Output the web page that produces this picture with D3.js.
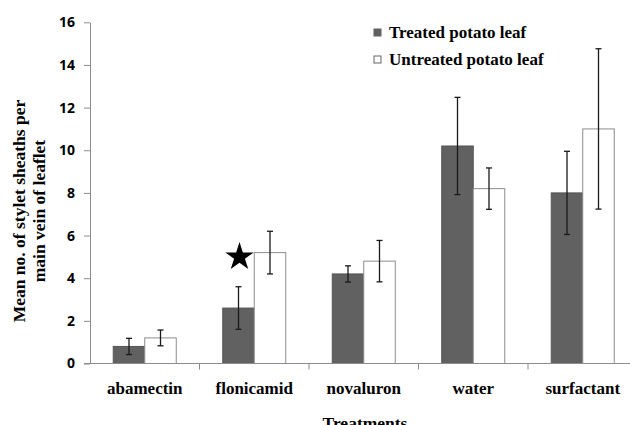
<!DOCTYPE html>
<html>
<head>
<meta charset="utf-8">
<script src="https://cdn.jsdelivr.net/npm/d3@7"></script>
<style>
  body { margin: 0; background: #fff; }
  .axis path, .axis line { stroke: #8c8c8c; }
  .ytick text { font-family: "Open Sans", sans-serif; font-weight: bold; font-size: 14px; fill: #000; }
  .serif { font-family: "Liberation Serif", "Times New Roman", serif; font-weight: bold; fill: #000; }
</style>
</head>
<body>
<script>
// treatments along the x axis
var categories = ["abamectin", "flonicamid", "novaluron", "water", "surfactant"];
var seriesNames = ["Treated potato leaf", "Untreated potato leaf"];

// mean values and error (+/-)
var treated = [0.8, 2.6, 4.2, 10.2, 8.0];
var treatedErr = [0.38, 1.0, 0.38, 2.28, 1.95];
var untreated = [1.2, 5.2, 4.8, 8.2, 11.0];
var untreatedErr = [0.37, 1.0, 0.97, 0.97, 3.76];

var yTicks = [0, 2, 4, 6, 8, 10, 12, 14, 16];

var W = 630, H = 425;
var plotLeft = 90, plotBottom = 363.5, plotTop = 22.3;
var band = 109.5, barW = 31.5;

var svg = d3.select("body").append("svg")
    .attr("width", W)
    .attr("height", H);

var x = d3.scaleBand().domain(categories).range([plotLeft, plotLeft + band * categories.length]).padding(0);
var xs = d3.scaleBand().domain(seriesNames).range([band / 2 - barW, band / 2 + barW]).padding(0);
var y = d3.scaleLinear().domain([0, 16]).range([plotBottom, plotTop]);

// y axis
var yAxis = svg.append("g")
    .attr("class", "axis ytick")
    .attr("transform", "translate(" + plotLeft + ",0)")
    .call(d3.axisLeft(y).tickValues(yTicks).tickSize(6).tickPadding(9).tickSizeOuter(0));

// bars
var rows = categories.map(function(c, i) {
  return [
    {cat: c, s: seriesNames[0], v: treated[i], e: treatedErr[i]},
    {cat: c, s: seriesNames[1], v: untreated[i], e: untreatedErr[i]}
  ];
});

var groups = svg.selectAll(".grp")
    .data(rows)
  .enter().append("g")
    .attr("class", "grp")
    .attr("transform", function(d) { return "translate(" + x(d[0].cat) + ",0)"; });

groups.selectAll("rect")
    .data(function(d) { return d; })
  .enter().append("rect")
    .attr("x", function(d) { return xs(d.s); })
    .attr("width", xs.bandwidth())
    .attr("y", function(d) { return y(d.v); })
    .attr("height", function(d) { return plotBottom - y(d.v); })
    .attr("fill", function(d) { return d.s === seriesNames[0] ? "#616161" : "#fff"; })
    .attr("stroke", function(d) { return d.s === seriesNames[0] ? "#555" : "#8c8c8c"; })
    .attr("stroke-width", 1);

// error bars
var err = groups.selectAll(".err")
    .data(function(d) { return d; })
  .enter().append("g")
    .attr("class", "err")
    .attr("stroke", "#1a1a1a")
    .attr("stroke-width", 1.3);
err.append("line")
    .attr("x1", function(d) { return xs(d.s) + xs.bandwidth() / 2; })
    .attr("x2", function(d) { return xs(d.s) + xs.bandwidth() / 2; })
    .attr("y1", function(d) { return y(d.v + d.e); })
    .attr("y2", function(d) { return y(d.v - d.e); });
[1, -1].forEach(function(sg) {
  err.append("line")
    .attr("x1", function(d) { return xs(d.s) + xs.bandwidth() / 2 - 3; })
    .attr("x2", function(d) { return xs(d.s) + xs.bandwidth() / 2 + 3; })
    .attr("y1", function(d) { return y(d.v + sg * d.e); })
    .attr("y2", function(d) { return y(d.v + sg * d.e); });
});

// x axis
var xAxis = svg.append("g")
    .attr("class", "axis")
    .attr("transform", "translate(0," + plotBottom + ")");
xAxis.append("line").attr("x1", plotLeft - 6).attr("x2", W).attr("y1", 0).attr("y2", 0);
xAxis.selectAll(".tk")
    .data(categories.slice(1))
  .enter().append("line")
    .attr("x1", function(d) { return x(d); })
    .attr("x2", function(d) { return x(d); })
    .attr("y1", 0).attr("y2", 6);
svg.selectAll(".cat")
    .data(categories)
  .enter().append("text")
    .attr("class", "serif")
    .attr("x", function(d) { return x(d) + band / 2; })
    .attr("y", 394)
    .attr("text-anchor", "middle")
    .style("font-size", "17px")
    .text(function(d) { return d; });

svg.append("text")
    .attr("class", "serif")
    .attr("x", 365)
    .attr("y", 429)
    .attr("text-anchor", "middle")
    .style("font-size", "17.5px")
    .text("Treatments");

// y title
var yt = svg.append("text")
    .attr("class", "serif")
    .attr("transform", "translate(0,211) rotate(-90)")
    .attr("text-anchor", "middle")
    .style("font-size", "17.5px");
yt.append("tspan").attr("x", 0).attr("y", 25).text("Mean no. of stylet sheaths per");
yt.append("tspan").attr("x", 0).attr("y", 45).text("main vein of leaflet");

// star over flonicamid treated bar
svg.append("path")
    .attr("d", d3.symbol().type(d3.symbolStar).size(250)())
    .attr("transform", "translate(" + (x("flonicamid") + xs(seriesNames[0]) + xs.bandwidth() / 2 + 1) + ",257)")
    .attr("fill", "#000");

// legend
var lg = svg.selectAll(".lg")
    .data(seriesNames)
  .enter().append("g")
    .attr("transform", function(d, i) { return "translate(374," + (29 + i * 27) + ")"; });
lg.append("rect")
    .attr("width", 7).attr("height", 7)
    .attr("fill", function(d, i) { return i === 0 ? "#616161" : "#fff"; })
    .attr("stroke", function(d, i) { return i === 0 ? "#616161" : "#666"; });
lg.append("text")
    .attr("class", "serif")
    .attr("x", 15)
    .attr("y", 9)
    .style("font-size", "17px")
    .text(function(d) { return d; });
</script>
</body>
</html>
